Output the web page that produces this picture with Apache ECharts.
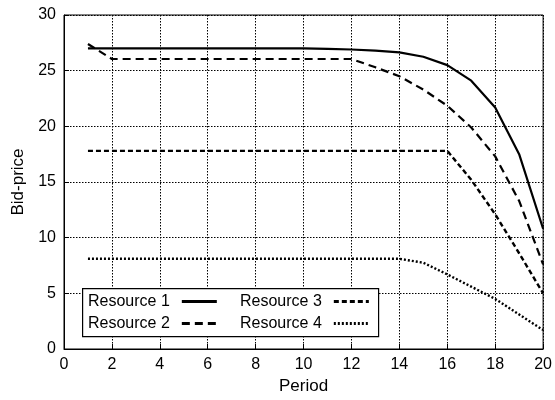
<!DOCTYPE html>
<html>
<head>
<meta charset="utf-8">
<script src="https://cdn.jsdelivr.net/npm/echarts@6/dist/echarts.min.js"></script>
<style>
  html, body { margin: 0; padding: 0; background: #fff; }
  #chart { width: 555px; height: 400px; }
</style>
</head>
<body>
<div id="chart"></div>
<script>
var periods = [1, 2, 3, 4, 5, 6, 7, 8, 9, 10, 11, 12, 13, 14, 15, 16, 17, 18, 19, 20];
var resource1 = [27.0, 27.0, 27.0, 27.0, 27.0, 27.0, 27.0, 27.0, 27.0, 27.0, 26.95, 26.9, 26.8, 26.65, 26.25, 25.5, 24.1, 21.7, 17.5, 10.8];
var resource2 = [27.4, 26.05, 26.05, 26.05, 26.05, 26.05, 26.05, 26.05, 26.05, 26.05, 26.05, 26.05, 25.3, 24.5, 23.3, 21.85, 19.9, 17.3, 13.3, 7.6];
var resource3 = [17.8, 17.8, 17.8, 17.8, 17.8, 17.8, 17.8, 17.8, 17.8, 17.8, 17.8, 17.8, 17.8, 17.8, 17.8, 17.8, 15.2, 12.1, 8.6, 5.0];
var resource4 = [8.1, 8.1, 8.1, 8.1, 8.1, 8.1, 8.1, 8.1, 8.1, 8.1, 8.1, 8.1, 8.1, 8.1, 7.75, 6.7, 5.6, 4.5, 3.1, 1.7];
var seriesNames = ['Resource 1', 'Resource 2', 'Resource 3', 'Resource 4'];
var xTicks = [0, 2, 4, 6, 8, 10, 12, 14, 16, 18, 20];
var yTicks = [0, 5, 10, 15, 20, 25, 30];

function pairs(vals) {
  return periods.map(function (p, i) { return [p, vals[i]]; });
}

var font = 'Liberation Sans, Arial, Helvetica, sans-serif';
var chart = echarts.init(document.getElementById('chart'), null, { renderer: 'canvas' });

var styles = [
  { type: 'solid', width: 2.2 },
  { type: [8, 5], width: 2.2 },
  { type: [5, 3], width: 2.4 },
  { type: [2, 2], width: 2.4 }
];
var datas = [resource1, resource2, resource3, resource4];

var series = seriesNames.map(function (n, i) {
  return {
    name: n,
    type: 'line',
    data: pairs(datas[i]),
    symbol: 'none',
    showSymbol: false,
    lineStyle: { color: '#000', type: styles[i].type, width: styles[i].width },
    itemStyle: { color: '#000' },
    z: 3
  };
});

function legendCfg(names, left) {
  return {
    data: names,
    left: left, top: 293,
    orient: 'vertical',
    align: 'right',
    itemWidth: 35, itemHeight: 10, itemGap: 5,
    padding: 0,
    itemStyle: { opacity: 0, borderWidth: 0 },
    lineStyle: { width: 3 },
    textStyle: { fontFamily: font, fontSize: 16, color: '#000', lineHeight: 17, padding: [0, 7, 0, 0] },
    z: 12
  };
}

chart.setOption({
  animation: false,
  backgroundColor: '#fff',
  grid: {
    left: 64, right: 8, top: 15, bottom: 44,
    show: true, borderColor: '#000', borderWidth: 1, backgroundColor: 'transparent'
  },
  graphic: {
    elements: [{
      type: 'rect', left: 82, top: 288, z: 11,
      shape: { width: 296, height: 48 },
      style: { fill: '#fff', stroke: '#000', lineWidth: 1.2 }
    }]
  },
  legend: [legendCfg(['Resource 1', 'Resource 2'], 88), legendCfg(['Resource 3', 'Resource 4'], 240)],
  xAxis: {
    type: 'value', min: xTicks[0], max: xTicks[xTicks.length - 1], interval: 2,
    name: 'Period', nameLocation: 'middle', nameGap: 29,
    nameTextStyle: { fontFamily: font, fontSize: 17, color: '#000' },
    axisLine: { show: true, onZero: false, lineStyle: { color: '#000', width: 1 } },
    axisTick: { show: true, inside: true, length: 5, lineStyle: { color: '#000' } },
    axisLabel: { fontFamily: font, fontSize: 16, color: '#000', margin: 8 },
    splitLine: { show: true, lineStyle: { color: '#000', type: [1.5, 1.5], width: 1 } }
  },
  yAxis: {
    type: 'value', min: yTicks[0], max: yTicks[yTicks.length - 1], interval: 5,
    name: 'Bid-price', nameLocation: 'middle', nameGap: 32,
    nameTextStyle: { fontFamily: font, fontSize: 17, color: '#000' },
    axisLine: { show: true, lineStyle: { color: '#000', width: 1 } },
    axisTick: { show: true, inside: true, length: 5, lineStyle: { color: '#000' } },
    axisLabel: { fontFamily: font, fontSize: 16, color: '#000', margin: 8 },
    splitLine: { show: true, lineStyle: { color: '#000', type: [1.5, 1.5], width: 1 } }
  },
  series: series
});
</script>
</body>
</html>
